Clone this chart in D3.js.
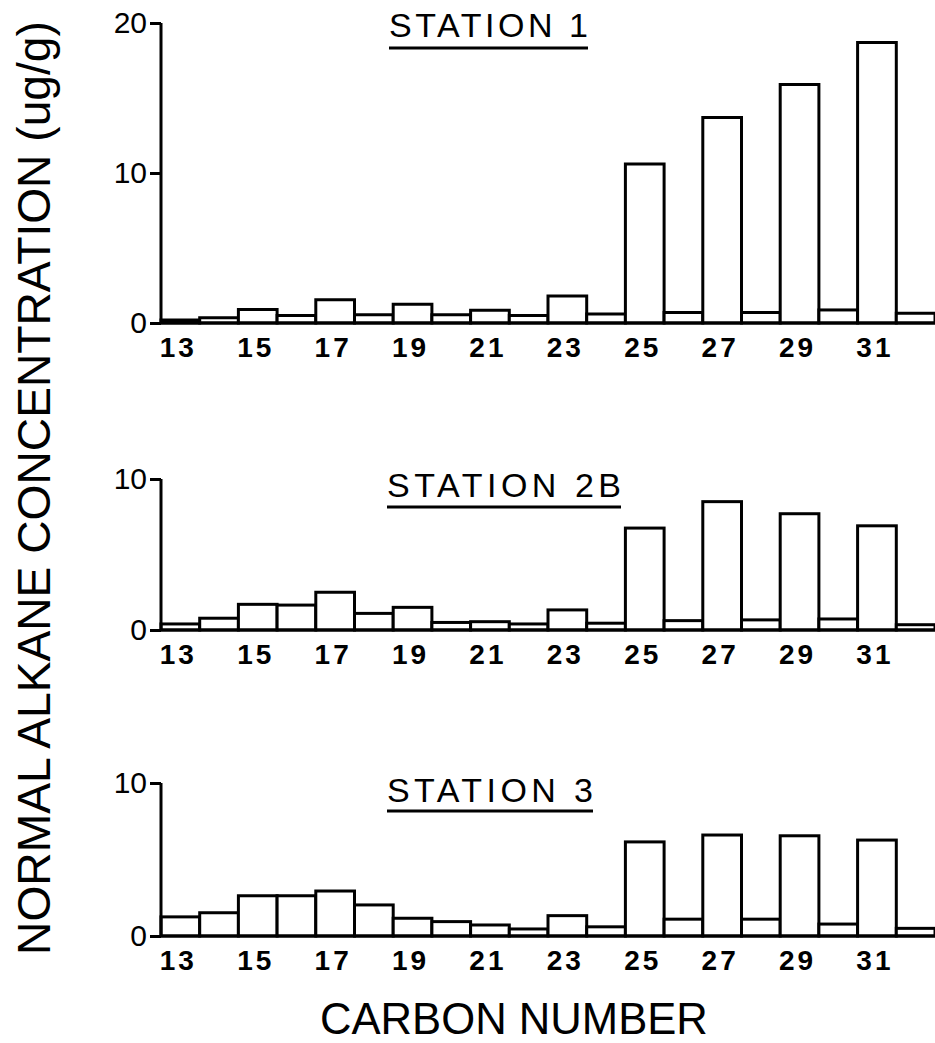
<!DOCTYPE html>
<html>
<head>
<meta charset="utf-8">
<script src="https://cdn.jsdelivr.net/npm/d3@7"></script>
<style>
  html, body { margin: 0; padding: 0; background: #fff; }
  svg { display: block; }
</style>
</head>
<body>
<script>
// ---------- data ----------
const carbonNumbers = [13,14,15,16,17,18,19,20,21,22,23,24,25,26,27,28,29,30,31,32];
const xTickLabels = [13,15,17,19,21,23,25,27,29,31];
const station1  = [0.2,0.35,0.9,0.5,1.55,0.55,1.25,0.55,0.85,0.5,1.8,0.6,10.6,0.7,13.7,0.7,15.9,0.87,18.7,0.65];
const station2B = [0.4,0.78,1.7,1.65,2.5,1.1,1.5,0.5,0.55,0.4,1.33,0.45,6.75,0.62,8.5,0.67,7.7,0.73,6.9,0.35];
const station3  = [1.25,1.52,2.63,2.63,2.94,2.03,1.16,0.94,0.72,0.46,1.33,0.6,6.15,1.1,6.6,1.1,6.55,0.78,6.27,0.5];
const titles = ["STATION 1", "STATION 2B", "STATION 3"];
const yMaxes = [20, 10, 10];
const yTicks1 = [0, 10, 20];
const yTicks23 = [0, 10];
const yAxisTitle = "NORMAL ALKANE CONCENTRATION (ug/g)";
const xAxisTitle = "CARBON NUMBER";

// ---------- layout ----------
const W = 935, H = 1043;
const FONT = "'Liberation Sans', Arial, sans-serif";
const svg = d3.select("body").append("svg").attr("width", W).attr("height", H);

const x = d3.scaleBand().domain(carbonNumbers).range([161, 935]).padding(0);

const panels = [
  { values: station1,  title: titles[0], yMax: yMaxes[0], ticks: yTicks1,  zero: 323, top: 23,  titleX: 389, titleBase: 37,  titleW: 199, ulY: 48 },
  { values: station2B, title: titles[1], yMax: yMaxes[1], ticks: yTicks23, zero: 630, top: 479, titleX: 387, titleBase: 497, titleW: 234, ulY: 507 },
  { values: station3,  title: titles[2], yMax: yMaxes[2], ticks: yTicks23, zero: 936, top: 783, titleX: 387, titleBase: 802, titleW: 206, ulY: 811 }
];

panels.forEach(p => {
  const y = d3.scaleLinear().domain([0, p.yMax]).range([p.zero, p.top]);
  const g = svg.append("g");

  // bars
  g.selectAll("rect.bar")
    .data(p.values.map((v, i) => ({ c: carbonNumbers[i], v })))
    .join("rect")
    .attr("class", "bar")
    .attr("x", d => x(d.c))
    .attr("y", d => y(d.v))
    .attr("width", x.bandwidth())
    .attr("height", d => y(0) - y(d.v))
    .attr("fill", "#fff")
    .attr("stroke", "#000")
    .attr("stroke-width", 3);

  // baseline
  g.append("line")
    .attr("x1", 161).attr("x2", 935)
    .attr("y1", y(0)).attr("y2", y(0))
    .attr("stroke", "#000").attr("stroke-width", 3);

  // y axis
  const yAxis = d3.axisLeft(y).tickValues(p.ticks).tickSize(11).tickPadding(3).tickFormat(d3.format("d"));
  const ga = g.append("g").attr("transform", "translate(161,0)").call(yAxis);
  ga.select(".domain").attr("stroke", "#000").attr("stroke-width", 3)
    .attr("d", `M0,${y(p.yMax)}V${y(0)}`);
  ga.selectAll(".tick line").attr("stroke", "#000").attr("stroke-width", 3);
  ga.selectAll(".tick text")
    .attr("fill", "#000")
    .style("font-family", FONT)
    .style("font-size", "30px")
    .style("font-weight", "normal");

  // x tick labels
  g.selectAll("text.xt")
    .data(xTickLabels)
    .join("text")
    .attr("class", "xt")
    .attr("x", d => x(d) + x.bandwidth() / 2 - 2)
    .attr("y", y(0) + 34)
    .attr("text-anchor", "middle")
    .style("font-family", FONT)
    .style("font-size", "28px")
    .style("font-weight", "bold")
    .attr("letter-spacing", "3px")
    .text(d => d);

  // title
  g.append("text")
    .attr("x", p.titleX)
    .attr("y", p.titleBase)
    .attr("textLength", p.titleW)
    .attr("lengthAdjust", "spacing")
    .style("font-family", FONT)
    .style("font-size", "34px")
    .text(p.title);
  g.append("line")
    .attr("x1", p.titleX).attr("x2", p.titleX + p.titleW)
    .attr("y1", p.ulY).attr("y2", p.ulY)
    .attr("stroke", "#000").attr("stroke-width", 3);
});

// axis titles (compressed horizontally along the text direction to match the condensed lettering)
const yt = svg.append("text")
  .attr("text-anchor", "middle")
  .style("font-family", FONT)
  .style("font-size", "46px")
  .text(yAxisTitle);
const ytLen = yt.node().getComputedTextLength();
yt.attr("transform", `translate(50,488) rotate(-90) scale(${934 / ytLen},1)`);

const xt = svg.append("text")
  .attr("text-anchor", "start")
  .style("font-family", FONT)
  .style("font-size", "45px")
  .text(xAxisTitle);
const xtLen = xt.node().getComputedTextLength();
xt.attr("transform", `translate(320,1034) scale(${388 / xtLen},1)`);
</script>
</body>
</html>
